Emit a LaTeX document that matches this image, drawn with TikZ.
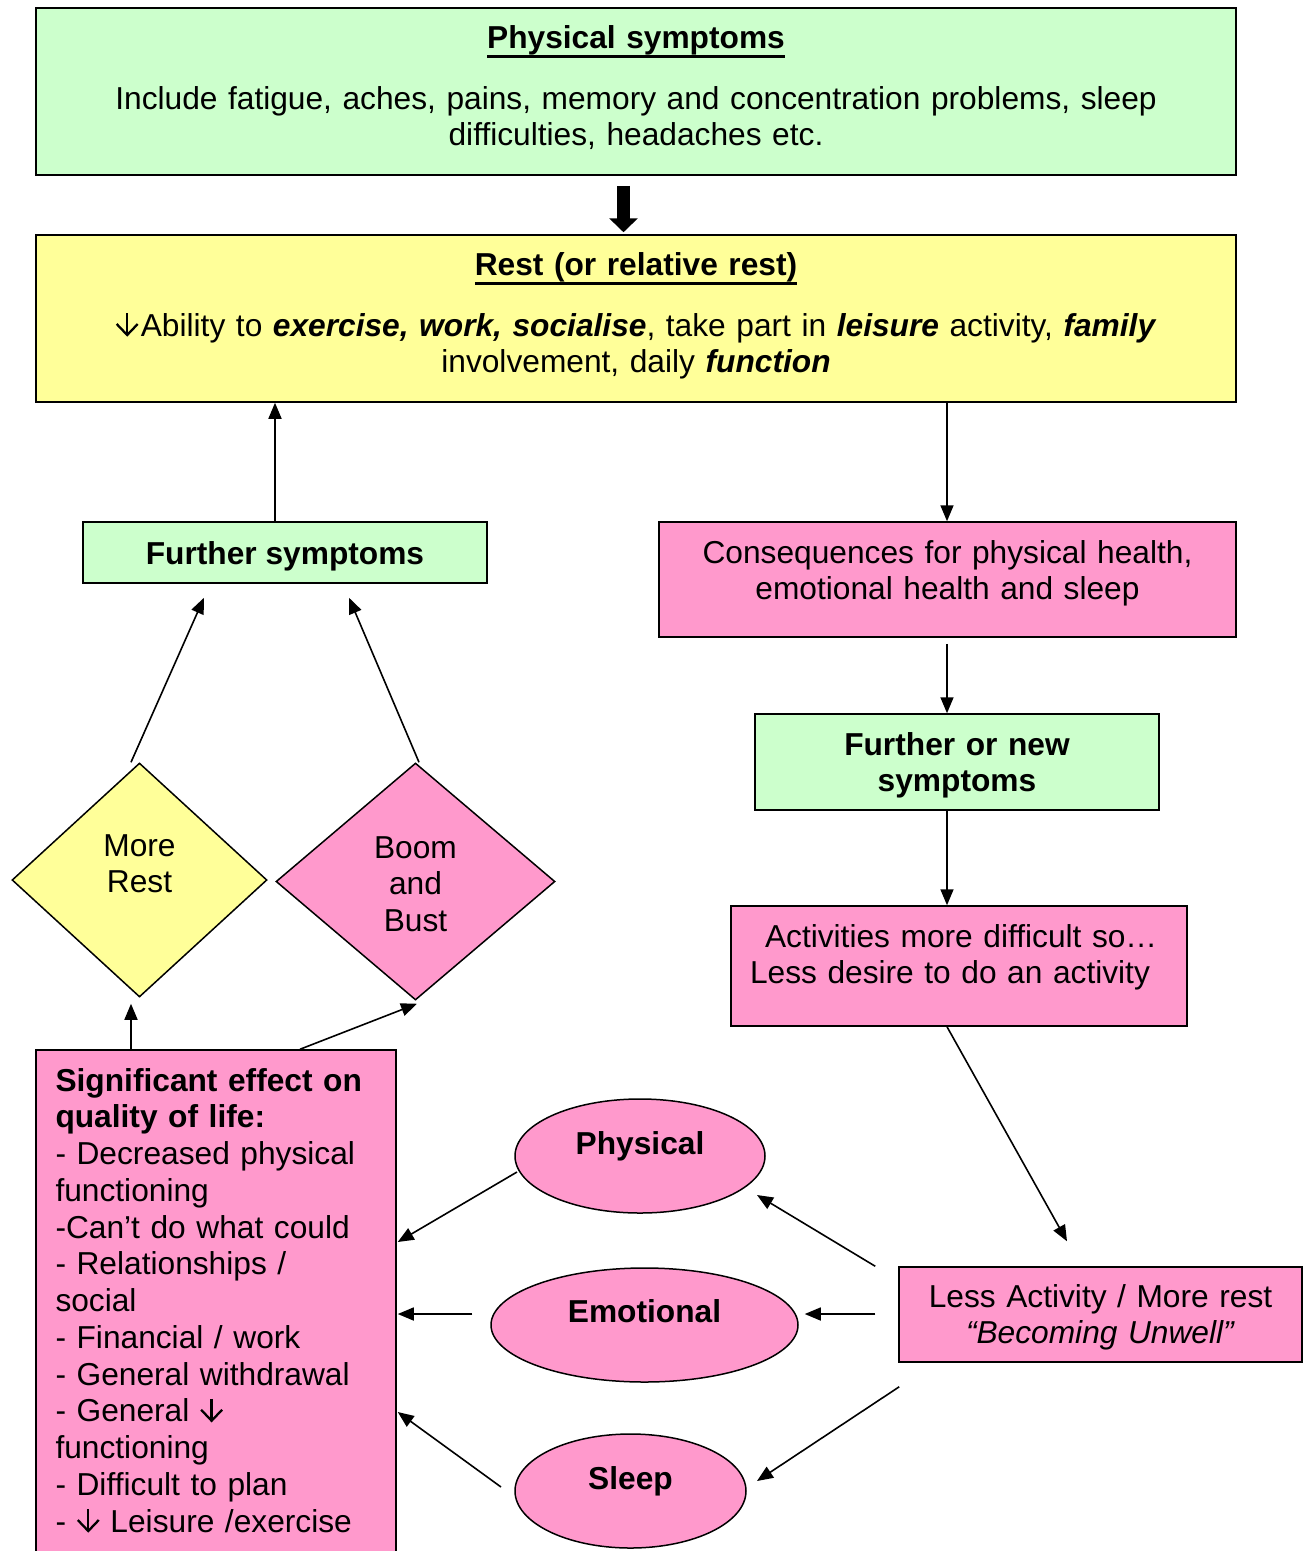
\documentclass[tikz,border=0pt]{standalone}
\usepackage{fontspec}
\setmainfont{Liberation Sans}
\usetikzlibrary{shapes.geometric,arrows.meta,calc}
\definecolor{gfill}{HTML}{CCFFCC}
\definecolor{yfill}{HTML}{FFFF99}
\definecolor{pfill}{HTML}{FF99CC}
\newcommand\myul[1]{\setbox0=\hbox{#1}\rlap{\rule[-10pt]{\wd0}{2.6pt}}\box0}
\newcommand\dnarr{\tikz[x=1pt,y=1pt,baseline=0pt,line width=2.3pt]{\draw (12,23)--(12,1); \draw[line join=miter] (1.5,12)--(12,1)--(22.5,12);}}
\begin{document}
\begin{tikzpicture}[x=1pt,y=-1pt,
  every node/.style={font=\fontsize{31.7}{36.75}\selectfont, inner sep=0pt},
  bx/.style={draw, line width=1.5pt, rectangle},
  ell/.style={draw, line width=1.5pt, ellipse, fill=pfill},
  dia/.style={draw, line width=1.5pt, diamond, align=center, text width=100pt},
  arr/.style={line width=1.6pt, -{Triangle[length=16pt,width=13pt]}},
  bigarr/.style={line width=13pt, -{Triangle[length=14pt,width=28pt]}}]
\fill[white] (0,0) rectangle (1304,1551);
\path[use as bounding box] (0,0) rectangle (1304,1551);
\clip (0,0) rectangle (1304,1551);

% boxes
\node[bx, fill=gfill, minimum width=1200pt, minimum height=167pt, text width=1180pt, align=center,
      text height=0pt, text depth=87pt] (ps) at (636,91.5)
  {\myul{\textbf{Physical symptoms}}\\[24.25pt]
   Include fatigue, aches, pains, memory and concentration problems, sleep\\
   difficulties, headaches etc.};

\node[bx, fill=yfill, minimum width=1200pt, minimum height=167pt, text width=1180pt, align=center,
      text height=0pt, text depth=87pt] (rest) at (636,318.5)
  {\myul{\textbf{Rest (or relative rest)}}\\[24.25pt]
   \dnarr\hspace{2pt}Ability to \textbf{\textit{exercise, work, socialise}}, take part in \textbf{\textit{leisure}} activity, \textbf{\textit{family}}\\
   involvement, daily \textbf{\textit{function}}};

\node[bx, fill=gfill, minimum width=404pt, minimum height=61pt,
      text height=23pt, text depth=0pt] (fs) at (285,552.5) {\textbf{Further symptoms}};

\node[bx, fill=pfill, minimum width=577pt, minimum height=115pt, text width=560pt, align=center,
      text height=0pt, text depth=33pt] (cons) at (947.5,579.5)
  {Consequences for physical health,\\ emotional health and sleep};

\node[bx, fill=gfill, minimum width=404pt, minimum height=96pt, text width=390pt, align=center,
      text height=0pt, text depth=14pt] (fns) at (957,762)
  {\textbf{Further or new}\\ \textbf{symptoms}};

\node[bx, fill=pfill, minimum width=456pt, minimum height=120pt, text width=418pt, align=left,
      text height=0pt, text depth=38pt] (act) at (959,966)
  {\hspace*{15pt}Activities more difficult so…\\ Less desire to do an activity};

\node[bx, fill=pfill, minimum width=403pt, minimum height=95pt, text width=390pt, align=center,
      text height=0pt, text depth=15pt] (less) at (1100.5,1314.5)
  {Less Activity / More rest\\ \textit{“Becoming Unwell”}};

\node[bx, fill=pfill, minimum width=360pt, minimum height=510pt, text width=321pt, align=left,
      text height=0pt, text depth=428pt] (sig) at (216,1305)
  {\textbf{Significant effect on}\\
   \textbf{quality of life:}\\
   - Decreased physical\\
   functioning\\
   -Can’t do what could\\
   - Relationships /\\
   social\\
   - Financial / work\\
   - General withdrawal\\
   - General \dnarr\\
   functioning\\
   - Difficult to plan\\
   - \dnarr{} Leisure /exercise};

% diamonds
\node[dia, fill=yfill, minimum width=255pt, minimum height=234pt,
      text height=0pt, text depth=48pt] (mr) at (139.5,880) {More\\ Rest};
\node[dia, fill=pfill, minimum width=279pt, minimum height=237pt,
      text height=0pt, text depth=47pt] (bb) at (415.5,881.5) {Boom\\ and\\ Bust};

% ellipses
\node[ell, minimum width=250pt, minimum height=114pt, text height=0pt, text depth=4pt]
  (phys) at (640,1156) {\textbf{Physical}};
\node[ell, minimum width=307pt, minimum height=114pt, text height=0pt, text depth=6pt]
  (emo) at (644.5,1325) {\textbf{Emotional}};
\node[ell, minimum width=231pt, minimum height=114pt, text height=0pt, text depth=4pt]
  (sleep) at (630.5,1491) {\textbf{Sleep}};

% connectors
\draw[bigarr] ($(ps.south)+(-12.5,10)$) -- ($(rest.north)+(-12.5,-2)$);
\draw[arr] ($(fs.north)+(-10,0)$) -- ($(rest.south)+(-361,0)$);
\draw[arr] ($(rest.south)+(311,0)$) -- ($(cons.north)+(-0.5,0)$);
\draw[arr] ($(mr.north)+(-8.5,0)$) -- ($(fs.south)+(-81,14)$);
\draw[arr] ($(bb.north)+(3.5,0)$) -- ($(fs.south)+(64,14)$);
\draw[arr] ($(sig.north)+(-85,0)$) -- ($(mr.south)+(-8.5,6)$);
\draw[arr] ($(sig.north)+(84,0)$) -- ($(bb.south)+(1.5,3)$);
\draw[arr] ($(cons.south)+(-0.5,6)$) -- ($(fns.north)+(-10,0)$);
\draw[arr] ($(fns.south)+(-10,0)$) -- ($(act.north)+(-12,0)$);
\draw[arr] ($(act.south)+(-12,0)$) -- ($(less.north)+(-33.5,-25)$);
\draw[arr] ($(less.north west)+(-23,0)$) -- ($(phys.center)+(117,39)$);
\draw[arr] ($(less.west)+(-23,-0.5)$) -- ($(emo.east)+(6,-11)$);
\draw[arr] ($(less.south west)+(1,24)$) -- ($(sleep.center)+(126.5,-10)$);
\draw[arr] ($(phys.center)+(-123,16)$) -- ($(sig.east)+(1,-63)$);
\draw[arr] ($(emo.west)+(-18,-11)$) -- ($(sig.east)+(1,9)$);
\draw[arr] ($(sleep.center)+(-129.5,-4)$) -- ($(sig.east)+(1,107)$);
\end{tikzpicture}
\end{document}
